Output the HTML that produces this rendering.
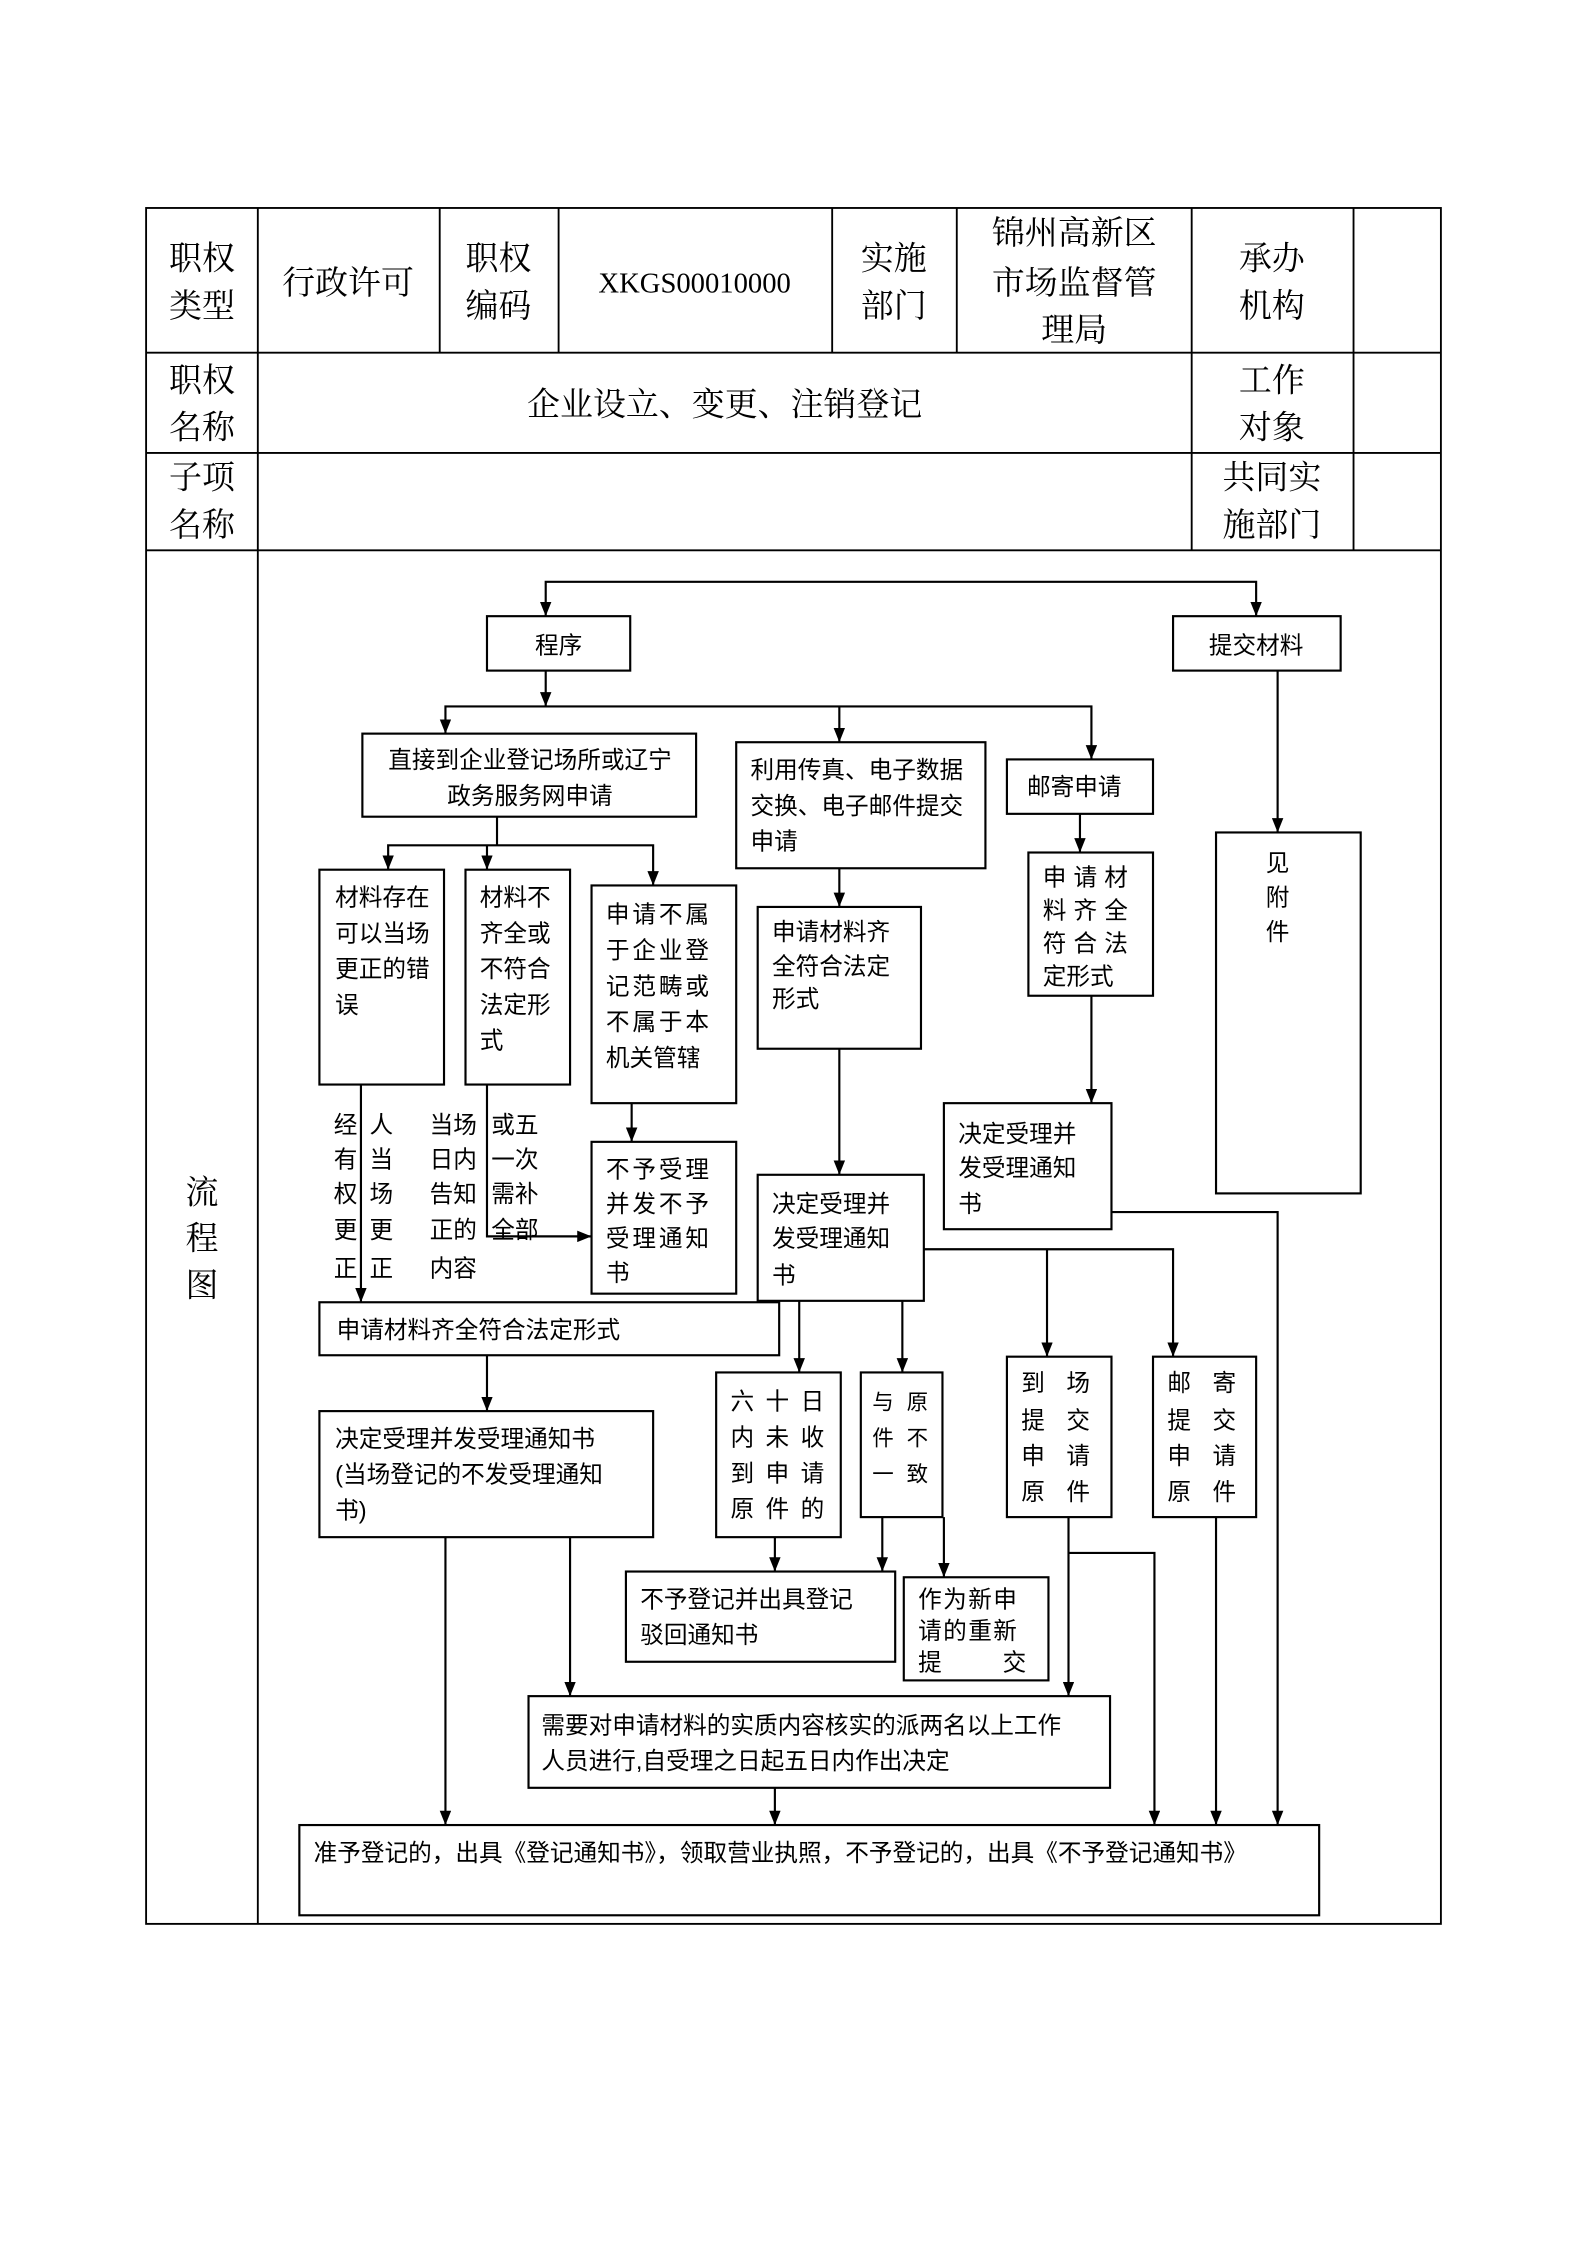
<!DOCTYPE html>
<html><head><meta charset="utf-8">
<style>
html,body{margin:0;padding:0;background:#fff;}
svg{display:block;}
.t{font-family:"Liberation Serif","Noto Serif CJK SC",serif;font-size:23px;fill:#000;}
.f{font-family:"Liberation Sans","Noto Sans CJK SC",sans-serif;font-size:16.5px;fill:#000;}
</style></head>
<body>
<svg width="1587" height="2245" viewBox="0 0 1108 1567" xmlns="http://www.w3.org/2000/svg">
<defs>
<marker id="a" markerWidth="10" markerHeight="8" refX="10" refY="4" orient="auto-start-reverse" markerUnits="userSpaceOnUse" viewBox="0 0 10 8">
<path d="M0,0 L10,4 L0,8 z" fill="#000"/>
</marker>
<marker id="r" markerWidth="10" markerHeight="8" refX="10" refY="4" orient="auto" markerUnits="userSpaceOnUse" viewBox="0 0 10 8">
<path d="M0,0 L10,4 L0,8 z" fill="#000"/>
</marker>
</defs>
<!-- table -->
<g stroke="#000" stroke-width="1.3" fill="none">
<rect x="102" y="145" width="904" height="1198"/>
<line x1="102" y1="246" x2="1006" y2="246"/>
<line x1="102" y1="316" x2="1006" y2="316"/>
<line x1="102" y1="384" x2="1006" y2="384"/>
<line x1="180" y1="145" x2="180" y2="1343"/>
<line x1="307" y1="145" x2="307" y2="246"/>
<line x1="390" y1="145" x2="390" y2="246"/>
<line x1="581" y1="145" x2="581" y2="246"/>
<line x1="668" y1="145" x2="668" y2="246"/>
<line x1="832" y1="145" x2="832" y2="384"/>
<line x1="945" y1="145" x2="945" y2="384"/>
</g>
<g class="t" text-anchor="middle">
<text x="141" y="188">职权</text><text x="141" y="221">类型</text>
<text x="243" y="205">行政许可</text>
<text x="348" y="188">职权</text><text x="348" y="221">编码</text>
<text x="485" y="204" style="font-size:20px">XKGS00010000</text>
<text x="624" y="188">实施</text><text x="624" y="221">部门</text>
<text x="750" y="170">锦州高新区</text><text x="750" y="205">市场监督管</text><text x="750" y="238">理局</text>
<text x="888" y="188">承办</text><text x="888" y="221">机构</text>
<text x="141" y="273">职权</text><text x="141" y="306">名称</text>
<text x="506" y="290">企业设立、变更、注销登记</text>
<text x="888" y="273">工作</text><text x="888" y="306">对象</text>
<text x="141" y="341">子项</text><text x="141" y="374">名称</text>
<text x="888" y="341">共同实</text><text x="888" y="374">施部门</text>
<text x="141" y="840">流</text><text x="141" y="872">程</text><text x="141" y="905">图</text>
</g>
<!-- flowchart boxes -->
<g stroke="#000" stroke-width="1.5" fill="none">
<rect x="340" y="430" width="100" height="38"/>
<rect x="819" y="430" width="117" height="38"/>
<rect x="253" y="512" width="233" height="58"/>
<rect x="514" y="518" width="174" height="88"/>
<rect x="703" y="530" width="102" height="38"/>
<rect x="849" y="581" width="101" height="252"/>
<rect x="223" y="607" width="87" height="150"/>
<rect x="325" y="607" width="73" height="150"/>
<rect x="413" y="618" width="101" height="152"/>
<rect x="529" y="633" width="114" height="99"/>
<rect x="718" y="595" width="87" height="100"/>
<rect x="659" y="770" width="117" height="88"/>
<rect x="529" y="820" width="116" height="88"/>
<rect x="413" y="797" width="101" height="106"/>
<rect x="223" y="909" width="321" height="37"/>
<rect x="223" y="985" width="233" height="88"/>
<rect x="500" y="958" width="87" height="115"/>
<rect x="601" y="958" width="57" height="101"/>
<rect x="703" y="947" width="73" height="112"/>
<rect x="805" y="947" width="72" height="112"/>
<rect x="437" y="1097" width="188" height="63"/>
<rect x="631" y="1101" width="101" height="72"/>
<rect x="369" y="1184" width="406" height="64"/>
<rect x="209" y="1274" width="712" height="63"/>
</g>
<!-- connectors -->
<g stroke="#000" stroke-width="1.5" fill="none">
<polyline points="381,430 381,406 877,406 877,430" marker-start="url(#a)" marker-end="url(#a)"/>
<line x1="381" y1="468" x2="381" y2="493" marker-end="url(#a)"/>
<polyline points="311,512 311,493 762,493 762,530" marker-start="url(#a)" marker-end="url(#a)"/>
<line x1="586" y1="493" x2="586" y2="518" marker-end="url(#a)"/>
<line x1="892" y1="468" x2="892" y2="581" marker-end="url(#a)"/>
<line x1="347" y1="570" x2="347" y2="590"/>
<polyline points="271,607 271,590 456,590 456,618" marker-start="url(#a)" marker-end="url(#a)"/>
<line x1="340" y1="590" x2="340" y2="607" marker-end="url(#a)"/>
<line x1="586" y1="606" x2="586" y2="633" marker-end="url(#a)"/>
<line x1="754" y1="568" x2="754" y2="595" marker-end="url(#a)"/>
<line x1="762" y1="695" x2="762" y2="770" marker-end="url(#a)"/>
<line x1="586" y1="732" x2="586" y2="820" marker-end="url(#a)"/>
<line x1="441" y1="770" x2="441" y2="797" marker-end="url(#a)"/>
<line x1="252" y1="757" x2="252" y2="909" marker-end="url(#a)"/>
<polyline points="340,757 340,863 413,863" marker-end="url(#r)"/>
<polyline points="645,872 819,872 819,947" marker-end="url(#a)"/>
<line x1="731" y1="872" x2="731" y2="947" marker-end="url(#a)"/>
<line x1="558" y1="908" x2="558" y2="958" marker-end="url(#a)"/>
<line x1="630" y1="908" x2="630" y2="958" marker-end="url(#a)"/>
<polyline points="776,846 892,846 892,1274" marker-end="url(#a)"/>
<line x1="340" y1="946" x2="340" y2="985" marker-end="url(#a)"/>
<line x1="541" y1="1073" x2="541" y2="1097" marker-end="url(#a)"/>
<line x1="616" y1="1059" x2="616" y2="1097" marker-end="url(#a)"/>
<line x1="659" y1="1059" x2="659" y2="1101" marker-end="url(#a)"/>
<line x1="746" y1="1059" x2="746" y2="1184" marker-end="url(#a)"/>
<polyline points="746,1084 806,1084 806,1274" marker-end="url(#a)"/>
<line x1="849" y1="1059" x2="849" y2="1274" marker-end="url(#a)"/>
<line x1="311" y1="1073" x2="311" y2="1274" marker-end="url(#a)"/>
<line x1="398" y1="1073" x2="398" y2="1184" marker-end="url(#a)"/>
<line x1="541" y1="1248" x2="541" y2="1274" marker-end="url(#a)"/>
</g>
<!-- flow texts -->
<g class="f">
<text x="390" y="456" text-anchor="middle">程序</text>
<text x="877" y="456" text-anchor="middle">提交材料</text>
<text x="370" y="536" text-anchor="middle">直接到企业登记场所或辽宁</text>
<text x="370" y="561" text-anchor="middle">政务服务网申请</text>
<text x="524" y="543">利用传真、电子数据</text>
<text x="524" y="568">交换、电子邮件提交</text>
<text x="524" y="593">申请</text>
<text x="717" y="555">邮寄申请</text>
<text x="892" y="608" text-anchor="middle">见</text>
<text x="892" y="632" text-anchor="middle">附</text>
<text x="892" y="656" text-anchor="middle">件</text>
<text x="234" y="632">材料存在</text><text x="234" y="657">可以当场</text><text x="234" y="682">更正的错</text><text x="234" y="707">误</text>
<text x="335" y="632">材料不</text><text x="335" y="657">齐全或</text><text x="335" y="682">不符合</text><text x="335" y="707">法定形</text><text x="335" y="732">式</text>
<text x="423" y="644" letter-spacing="2">申请不属</text><text x="423" y="669" letter-spacing="2">于企业登</text><text x="423" y="694" letter-spacing="2">记范畴或</text><text x="423" y="719" letter-spacing="2">不属于本</text><text x="423" y="744">机关管辖</text>
<text x="539" y="656">申请材料齐</text><text x="539" y="680">全符合法定</text><text x="539" y="703">形式</text>
<text x="728" y="618" letter-spacing="5">申请材</text><text x="728" y="641" letter-spacing="5">料齐全</text><text x="728" y="664" letter-spacing="5">符合法</text><text x="728" y="687">定形式</text>
<text x="669" y="797">决定受理并</text><text x="669" y="821">发受理通知</text><text x="669" y="846">书</text>
<text x="539" y="846">决定受理并</text><text x="539" y="870">发受理通知</text><text x="539" y="896">书</text>
<text x="423" y="822" letter-spacing="2">不予受理</text><text x="423" y="846" letter-spacing="2">并发不予</text><text x="423" y="870" letter-spacing="2">受理通知</text><text x="423" y="894">书</text>
<text x="233" y="791">经</text><text x="233" y="815">有</text><text x="233" y="839">权</text><text x="233" y="864">更</text><text x="233" y="891">正</text>
<text x="258" y="791">人</text><text x="258" y="815">当</text><text x="258" y="839">场</text><text x="258" y="864">更</text><text x="258" y="891">正</text>
<text x="300" y="791">当场</text><text x="300" y="815">日内</text><text x="300" y="839">告知</text><text x="300" y="864">正的</text><text x="300" y="891">内容</text>
<text x="343" y="791">或五</text><text x="343" y="815">一次</text><text x="343" y="839">需补</text><text x="343" y="864">全部</text>
<text x="235" y="934">申请材料齐全符合法定形式</text>
<text x="234" y="1010">决定受理并发受理通知书</text>
<text x="234" y="1035">(当场登记的不发受理通知</text>
<text x="234" y="1060">书)</text>
<text x="510" y="984" letter-spacing="8">六十日</text><text x="510" y="1009" letter-spacing="8">内未收</text><text x="510" y="1034" letter-spacing="8">到申请</text><text x="510" y="1059" letter-spacing="8">原件的</text>
<g style="font-size:15px"><text x="609" y="984" letter-spacing="9">与原</text><text x="609" y="1009" letter-spacing="9">件不</text><text x="609" y="1034" letter-spacing="9">一致</text></g>
<text x="713" y="971" letter-spacing="15">到场</text><text x="713" y="997" letter-spacing="15">提交</text><text x="713" y="1022" letter-spacing="15">申请</text><text x="713" y="1047" letter-spacing="15">原件</text>
<text x="815" y="971" letter-spacing="15">邮寄</text><text x="815" y="997" letter-spacing="15">提交</text><text x="815" y="1022" letter-spacing="15">申请</text><text x="815" y="1047" letter-spacing="15">原件</text>
<text x="447" y="1122">不予登记并出具登记</text><text x="447" y="1147">驳回通知书</text>
<text x="641" y="1122" letter-spacing="1">作为新申</text><text x="641" y="1144" letter-spacing="1">请的重新</text><text x="641" y="1166">提</text><text x="700" y="1166">交</text>
<text x="378" y="1210">需要对申请材料的实质内容核实的派两名以上工作</text>
<text x="378" y="1235">人员进行,自受理之日起五日内作出决定</text>
<text x="219" y="1299">准予登记的，出具《登记通知书》，领取营业执照，不予登记的，出具《不予登记通知书》</text>
</g>
</svg>
</body></html>
